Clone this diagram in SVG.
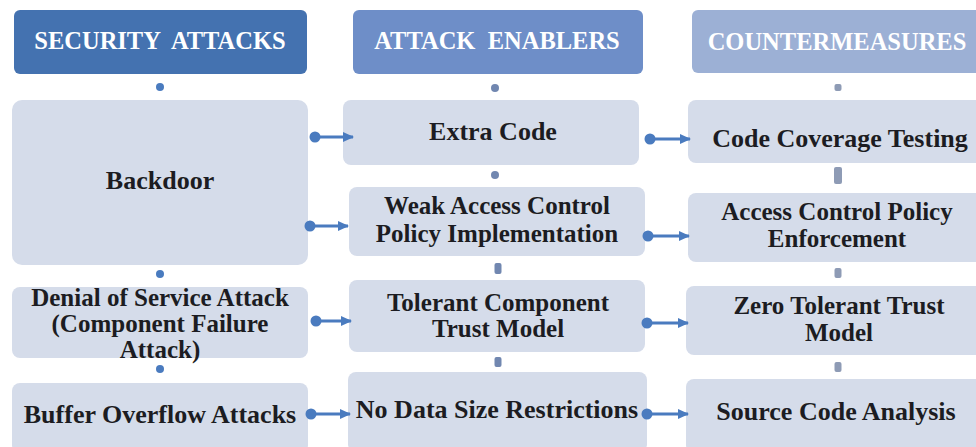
<svg xmlns="http://www.w3.org/2000/svg" width="976" height="447" viewBox="0 0 976 447">
  <defs>
    <style>
      .hdr text { font-family: "Liberation Serif", "Times New Roman", serif; font-weight: bold; font-size: 24.5px; fill: #ffffff; text-anchor: middle; }
      .node rect { fill: #d5dcea; }
      .node text { font-family: "Liberation Serif", "Times New Roman", serif; font-weight: bold; font-size: 26px; fill: #1c1c22; text-anchor: middle; }
      .node text.ml { font-size: 25px; }
      .link { stroke: #4a7bbf; stroke-width: 3.2; fill: none; marker-start: url(#dot); marker-end: url(#arrow); }
      .tick1 { fill: #4a7bbf; }
      .tick2 { fill: #7187b0; }
      .tick3 { fill: #8e9bb5; }
    </style>
    <marker id="dot" markerUnits="userSpaceOnUse" markerWidth="14" markerHeight="14" refX="7" refY="7" orient="auto">
      <circle cx="7" cy="7" r="5.5" fill="#4a7bbf"/>
    </marker>
    <marker id="arrow" markerUnits="userSpaceOnUse" markerWidth="12" markerHeight="12" refX="10" refY="6" orient="auto">
      <path d="M0,1 L11,6 L0,11 Z" fill="#4a7bbf"/>
    </marker>
  </defs>

  <rect width="976" height="447" fill="#ffffff"/>

  <!-- column headers -->
  <g id="hdr-attacks" class="hdr">
    <rect x="14" y="10" width="293" height="64" rx="6" fill="#4472b0"/>
    <text x="160" y="49" xml:space="preserve">SECURITY  ATTACKS</text>
  </g>
  <g id="hdr-enablers" class="hdr">
    <rect x="353" y="10" width="290" height="64" rx="6" fill="#6e8ec8"/>
    <text x="497" y="49" xml:space="preserve">ATTACK  ENABLERS</text>
  </g>
  <g id="hdr-countermeasures" class="hdr">
    <rect x="692" y="10" width="296" height="63" rx="6" fill="#9cb0d5"/>
    <text x="837" y="50">COUNTERMEASURES</text>
  </g>

  <!-- security attacks column -->
  <g id="backdoor" class="node">
    <rect x="12" y="100" width="296" height="165" rx="10"/>
    <text x="160" y="189">Backdoor</text>
  </g>
  <g id="denial-of-service" class="node">
    <rect x="12" y="287" width="296" height="71" rx="8"/>
    <text class="ml" x="160" y="306">Denial of Service Attack</text>
    <text class="ml" x="160" y="332">(Component Failure</text>
    <text class="ml" x="160" y="358">Attack)</text>
  </g>
  <g id="buffer-overflow" class="node">
    <rect x="12" y="383" width="296" height="70" rx="8"/>
    <text x="160" y="423">Buffer Overflow Attacks</text>
  </g>

  <!-- attack enablers column -->
  <g id="extra-code" class="node">
    <rect x="343" y="100" width="296" height="65" rx="8"/>
    <text x="493" y="140">Extra Code</text>
  </g>
  <g id="weak-access-control" class="node">
    <rect x="349" y="187" width="296" height="69" rx="8"/>
    <text class="ml" x="497" y="214">Weak Access Control</text>
    <text class="ml" x="497" y="242">Policy Implementation</text>
  </g>
  <g id="tolerant-trust" class="node">
    <rect x="349" y="280" width="296" height="72" rx="8"/>
    <text class="ml" x="498" y="311">Tolerant Component</text>
    <text class="ml" x="498" y="337">Trust Model</text>
  </g>
  <g id="no-size-restrictions" class="node">
    <rect x="348" y="372" width="299" height="80" rx="8"/>
    <text x="497" y="418">No Data Size Restrictions</text>
  </g>

  <!-- countermeasures column -->
  <g id="code-coverage" class="node">
    <rect x="688" y="100" width="300" height="63" rx="8"/>
    <text x="840" y="147">Code Coverage Testing</text>
  </g>
  <g id="access-enforcement" class="node">
    <rect x="688" y="193" width="300" height="69" rx="8"/>
    <text class="ml" x="837" y="220">Access Control Policy</text>
    <text class="ml" x="837" y="247">Enforcement</text>
  </g>
  <g id="zero-tolerant-trust" class="node">
    <rect x="686" y="286" width="302" height="69" rx="8"/>
    <text class="ml" x="839" y="314">Zero Tolerant Trust</text>
    <text class="ml" x="839" y="341">Model</text>
  </g>
  <g id="source-code-analysis" class="node">
    <rect x="686" y="379" width="302" height="74" rx="8"/>
    <text x="836" y="420">Source Code Analysis</text>
  </g>

  <!-- connectors -->
  <g id="connectors">
    <!-- vertical ties within each column -->
    <circle class="tick1" cx="160" cy="87" r="4"/>
    <circle class="tick1" cx="160" cy="274" r="4"/>
    <circle class="tick1" cx="160" cy="369" r="4"/>

    <circle class="tick2" cx="495" cy="88" r="4"/>
    <circle class="tick2" cx="495" cy="175" r="4"/>
    <rect class="tick2" x="494.5" y="263" width="7" height="11" rx="2"/>
    <rect class="tick2" x="494.5" y="357" width="7" height="10" rx="2"/>

    <rect class="tick3" x="834.5" y="84" width="7" height="7" rx="2"/>
    <rect class="tick3" x="834" y="167" width="8" height="17" rx="2"/>
    <rect class="tick3" x="834.5" y="268" width="7" height="10" rx="2"/>
    <rect class="tick3" x="834.5" y="362" width="7" height="10" rx="2"/>

    <!-- attack to enabler to countermeasure links -->
    <line class="link" x1="315" y1="137" x2="353" y2="137"/>
    <line class="link" x1="310" y1="226" x2="348" y2="226"/>
    <line class="link" x1="650" y1="139" x2="690" y2="139"/>
    <line class="link" x1="648" y1="236" x2="689" y2="236"/>
    <line class="link" x1="316" y1="321" x2="351" y2="321"/>
    <line class="link" x1="647" y1="323" x2="688" y2="323"/>
    <line class="link" x1="311" y1="414" x2="350" y2="414"/>
    <line class="link" x1="647" y1="414" x2="688" y2="414"/>
  </g>
</svg>
